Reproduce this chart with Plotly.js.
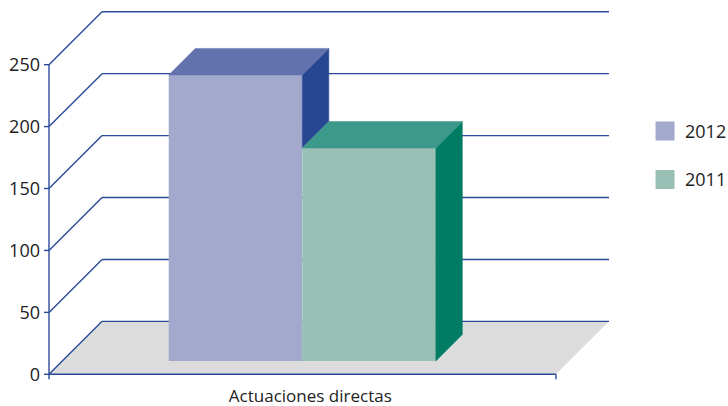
<!DOCTYPE html>
<html><head><meta charset="utf-8">
<script src="https://cdn.plot.ly/plotly-3.0.1.min.js"></script>
<style>html,body{margin:0;padding:0;background:#fff;overflow:hidden}</style>
</head><body><div id="chart" style="width:728px;height:406px"></div>
<script>
var category = "Actuaciones directas";
var seriesNames = ["2012", "2011"];
var values2012 = [231];
var values2011 = [172];
var yTicks = [0, 50, 100, 150, 200, 250];

var frontColors = ["#a3a9cd", "#9ac0b6"];
var topColors = ["#6272ad", "#3d998a"];
var sideColors = ["#274793", "#007c64"];
var lineColor = "#2a4a99";
var textColor = "#222222";
var fontFamily = "'Open Sans', sans-serif";

// Pseudo-3D geometry, in axis units (x unit = 1px, y unit = 1/1.24px)
var pxPerUnit = 1.24;
var wallDX = 53, wallDY = 53 / pxPerUnit;
var barDX = 26.5, barDY = 26.5 / pxPerUnit;
var baseOffset = 13.3 / pxPerUnit;
var axisWidth = 506.4;
var catCenter = 253, barWidth = 133.4;

var xMin = -6, xMax = axisWidth + wallDX + 4;
var yMin = -5.4, yMax = 250 + wallDY + 3;
var plotL = 49.3 + xMin, plotT = 374.3 - yMax * pxPerUnit;
var plotW = xMax - xMin, plotH = (yMax - yMin) * pxPerUnit;

var shapes = [];
function seg(x0, y0, x1, y1, w) {
  shapes.push({type: "line", layer: "below", xref: "x", yref: "y", x0: x0, y0: y0, x1: x1, y1: y1,
    line: {color: lineColor, width: w || 1.4}});
}
// floor
shapes.push({type: "path", layer: "below", xref: "x", yref: "y",
  path: "M0,0 L" + wallDX + "," + wallDY + " L" + (axisWidth + wallDX) + "," + wallDY + " L" + axisWidth + ",0 Z",
  fillcolor: "#dcdcdc", line: {width: 0}});
yTicks.forEach(function (v) {
  seg(0, v, wallDX, v + wallDY);
  seg(wallDX, v + wallDY, axisWidth + wallDX, v + wallDY);
  seg(-5, v, 0, v);
});
seg(0, 0, 0, yTicks[yTicks.length - 1]);
seg(0, 0, axisWidth, 0);
seg(0, 0, 0, -5 / pxPerUnit);
seg(axisWidth, 0, axisWidth, -5 / pxPerUnit);

function poly(xs, ys, color) {
  return {type: "scatter", mode: "lines", x: xs.concat(xs[0]), y: ys.concat(ys[0]), fill: "toself",
    fillcolor: color, line: {color: color, width: 0.5}, showlegend: false, hoverinfo: "skip"};
}

var xL = [catCenter - barWidth, catCenter];
var tops = [values2012[0] + baseOffset, values2011[0] + baseOffset];

var traces = [];
// front faces
[values2012, values2011].forEach(function (vals, i) {
  traces.push({type: "bar", x: [xL[i]], y: vals, base: [baseOffset], width: [barWidth],
    offset: [0], marker: {color: frontColors[i], line: {width: 0}}, showlegend: false, hoverinfo: "skip"});
});
// 2012 side (hidden below the top of 2011) and top
var r0 = xL[0] + barWidth;
traces.push(poly([r0, r0 + barDX, r0 + barDX, r0],
  [tops[0], tops[0] + barDY, tops[1] + barDY, tops[1]], sideColors[0]));
traces.push(poly([xL[0], xL[0] + barDX, r0 + barDX, r0],
  [tops[0], tops[0] + barDY, tops[0] + barDY, tops[0]], topColors[0]));
// 2011 side and top
var r1 = xL[1] + barWidth;
traces.push(poly([r1, r1 + barDX, r1 + barDX, r1],
  [tops[1], tops[1] + barDY, baseOffset + barDY, baseOffset], sideColors[1]));
traces.push(poly([xL[1], xL[1] + barDX, r1 + barDX, r1],
  [tops[1], tops[1] + barDY, tops[1] + barDY, tops[1]], topColors[1]));
// legend entries
seriesNames.forEach(function (name, i) {
  traces.push({type: "scatter", mode: "markers", name: name, x: [null], y: [null], legendgroup: name,
    marker: {symbol: "square", size: 16, color: frontColors[i], line: {color: frontColors[i], width: 3}}});
});

var layout = {
  width: 728, height: 406,
  margin: {l: plotL, t: plotT, r: 728 - plotL - plotW, b: 406 - plotT - plotH, pad: 0, autoexpand: false},
  paper_bgcolor: "#fff", plot_bgcolor: "rgba(0,0,0,0)",
  font: {family: fontFamily, size: 17, color: textColor},
  barmode: "overlay",
  showlegend: true,
  legend: {x: (644.7 - plotL) / plotW, xanchor: "left", y: 1 - (112.5 - plotT) / plotH, yanchor: "top",
    tracegroupgap: 22, font: {family: fontFamily, size: 18, color: textColor}, bgcolor: "rgba(0,0,0,0)", itemclick: false},
  xaxis: {range: [xMin, xMax], showgrid: false, zeroline: false, showline: false, ticks: "", automargin: false,
    tickmode: "array", tickvals: [catCenter + 8], ticktext: [category], ticklabelstandoff: 3,
    tickfont: {family: fontFamily, size: 17, color: textColor}},
  yaxis: {range: [yMin, yMax], showgrid: false, zeroline: false, showline: false, ticks: "", automargin: false,
    tickmode: "array", tickvals: yTicks, ticktext: yTicks.map(String), ticklabelstandoff: 2,
    tickfont: {family: fontFamily, size: 18, color: textColor}},
  shapes: shapes
};
Plotly.newPlot("chart", traces, layout, {displayModeBar: false, staticPlot: true});
</script></body></html>
